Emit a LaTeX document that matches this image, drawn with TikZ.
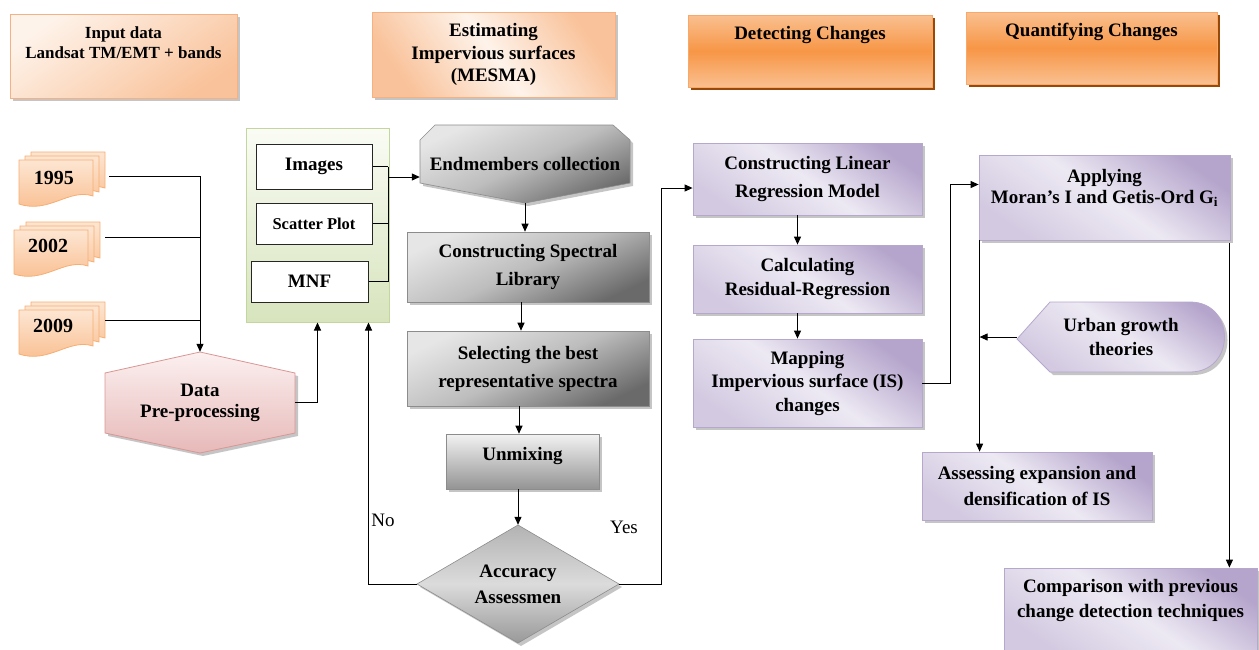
\documentclass[tikz,border=0pt]{standalone}
\usepackage{fontspec}
\setmainfont{Liberation Serif}
\usetikzlibrary{arrows.meta,shadows,calc}
\definecolor{peachL}{HTML}{FEF3EA}
\definecolor{peachD}{HTML}{F9C29A}
\definecolor{peachB}{HTML}{F4B183}
\definecolor{docL}{HTML}{FDE6D3}
\definecolor{docD}{HTML}{F9BC8C}
\definecolor{docB}{HTML}{F7AE72}
\definecolor{orM}{HTML}{F79646}
\definecolor{orL}{HTML}{FAC090}
\definecolor{orB}{HTML}{F8A96A}
\definecolor{brownS}{HTML}{984807}
\definecolor{purD}{HTML}{B5A5CC}
\definecolor{purL}{HTML}{EDE9F3}
\definecolor{purM}{HTML}{D3CAE1}
\definecolor{purB}{HTML}{B6A7CC}
\definecolor{pinkL}{HTML}{FCF0F0}
\definecolor{pinkD}{HTML}{E6B9B8}
\definecolor{pinkB}{HTML}{D99694}
\definecolor{greenL}{HTML}{FAFCF5}
\definecolor{greenD}{HTML}{D7E4BD}
\definecolor{greenB}{HTML}{C3D69B}
\definecolor{grL}{HTML}{E6E6E6}
\definecolor{grM}{HTML}{BDBDBD}
\definecolor{grD}{HTML}{6A6A6A}
\newcommand\bx{\fontsize{19}{25}\selectfont\bfseries}
\newcommand\bxf[1]{\fontsize{19}{#1}\selectfont\bfseries}
\newcommand\mydoc[2]{%
  \path[docpg] (#1,#2) -- ({#1+74},#2) -- ({#1+74},{#2+36})
    .. controls ({#1+50},{#2+28}) and ({#1+30},{#2+54}) .. (#1,{#2+44}) -- cycle;}
\newcommand\mydocs[2]{\mydoc{#1+12}{#2-8}\mydoc{#1+6}{#2-4}\mydoc{#1}{#2}}
\begin{document}
\begin{tikzpicture}[x=1pt,y=-1pt,
  arr/.style={-{Triangle[length=8pt,width=7pt]}, line width=1pt},
  ln/.style={line width=1pt},
  txt/.style={font=\bx, align=center, inner sep=0pt, text=black},
  box/.style={rectangle, inner sep=0pt, font=\bx, align=center, text=black},
  gshadow/.style={drop shadow={shadow xshift=3pt, shadow yshift=-3pt, fill=black!45, opacity=0.5}},
  peachbox/.style={box, draw=peachB, line width=0.8pt, top color=peachL, bottom color=peachD, shading angle=35, gshadow},
  peachbox2/.style={box, draw=peachB, line width=0.8pt, top color=peachD, bottom color=peachD, middle color=peachL, shading angle=-55, gshadow},
  orbox/.style={box, draw=orB, line width=0.8pt, top color=orL, bottom color=orL, middle color=orM,
     drop shadow={shadow xshift=3pt, shadow yshift=-3pt, fill=brownS, opacity=1}},
  docpg/.style={draw=docB, line width=0.8pt, top color=docL, bottom color=docD},
  pinkst/.style={draw=pinkB, line width=0.8pt, top color=pinkL, bottom color=pinkD, gshadow},
  greenbox/.style={box, draw=greenB, line width=1pt, top color=greenL, bottom color=greenD},
  wbox/.style={box, draw=black!85, line width=1pt, fill=white},
  graysh/.style={draw=gray!90, line width=0.6pt, top color=grL, bottom color=grD, middle color=grM, shading angle=25, gshadow},
  graybox/.style={box, graysh},
  unbox/.style={box, draw=gray!90, line width=0.6pt, top color=white!95!black, bottom color=black!42, gshadow},
  diast/.style={draw=gray!90, line width=0.6pt, top color=black!30, bottom color=black!40, middle color=black!14, gshadow},
  purst/.style={draw=purB, line width=0.8pt, top color=purD, bottom color=purM, middle color=purL, shading angle=-35, gshadow},
  purbox/.style={box, purst},
  lbl/.style={font=\fontsize{19}{22}\selectfont, inner sep=0pt, text=black}
]
\useasboundingbox (0,0) rectangle (1259,649);

% ---------- headers
\node[peachbox, minimum width=227, minimum height=84] (inp) at (123.5,56) {};
\node[txt, font=\fontsize{17}{20}\selectfont\bfseries] (inpT) at (123.5,43) {Input data\\Landsat TM/EMT + bands};
\node[peachbox2, minimum width=243, minimum height=85, font=\bxf{22.5}] (est) at (493.5,54.5) {Estimating\\Impervious surfaces\\(MESMA)};
\node[orbox, minimum width=244, minimum height=72] (det) at (810,51) {};
\node[txt] (detT) at (810,35) {Detecting Changes};
\node[orbox, minimum width=251, minimum height=72] (quan) at (1091.5,48) {};
\node[txt] (quanT) at (1091.5,32) {Quantifying Changes};

% ---------- input documents
\mydocs{19}{160}
\mydocs{14}{230}
\mydocs{19}{310}
\node[inner sep=0pt, minimum width=88, minimum height=48] (d1995) at (65,176) {};
\node[inner sep=0pt, minimum width=90, minimum height=48] (d2002) at (60,237) {};
\node[inner sep=0pt, minimum width=88, minimum height=48] (d2009) at (61,320) {};
\node[txt, font=\fontsize{20}{22}\selectfont\bfseries] (t1995) at (54,178) {1995};
\node[txt, font=\fontsize{20}{22}\selectfont\bfseries] (t2002) at (48,246) {2002};
\node[txt, font=\fontsize{20}{22}\selectfont\bfseries] (t2009) at (53,326) {2009};

% ---------- pre-processing
\path[pinkst] (105,373) -- (200,352) -- (295,373) -- (295,433) -- (200,453) -- (105,433) -- cycle;
\node[box, minimum width=190, minimum height=101, font=\bxf{21}] (pre) at (200,402.5) {Data\\Pre-processing};
\draw[arr] (d1995.east) -| (pre.north);
\draw[ln] (d2002.east) -- (d2002.east -| pre.north);
\draw[ln] (d2009.east) -- (d2009.east -| pre.north);

% ---------- green group
\node[greenbox, minimum width=143, minimum height=194] (green) at (317.5,225) {};
\node[wbox, minimum width=116, minimum height=45] (img) at (314,166.5) {Images};
\node[wbox, minimum width=116, minimum height=41, font=\fontsize{16.5}{20}\selectfont\bfseries] (sct) at (314,223.5) {Scatter Plot};
\node[wbox, minimum width=117, minimum height=41] (mnf) at (309.5,281.5) {MNF};
\draw[arr] (pre.east) -| (green.south);

% ---------- MESMA column
\path[graysh] (420,140) -- (435,125) -- (613,125) -- (630,140) -- (630,183) -- (525,203) -- (420,183) -- cycle;
\node[box, minimum width=210, minimum height=78] (endm) at (525,164) {Endmembers collection};
\coordinate (brk) at (388,177);
\draw[ln] (img.east) -- (img.east -| brk);
\draw[ln] (sct.east) -- (sct.east -| brk);
\draw[ln] (mnf.east) -- (mnf.east -| brk);
\draw[ln] (img.east -| brk) -- (mnf.east -| brk);
\draw[arr] (brk) -- (brk -| endm.west);

\node[graybox, minimum width=242, minimum height=70, font=\bxf{28}] (lib) at (528,267) {Constructing Spectral\\Library};
\node[graybox, minimum width=242, minimum height=75, font=\bxf{28}] (sel) at (528,368.5) {Selecting the best\\representative spectra};
\node[unbox, minimum width=153, minimum height=55] (unmix) at (522.5,461.5) {};
\node[txt] (unmixT) at (522.5,456) {Unmixing};
\path[diast] (417,584) -- (518,525) -- (619,584) -- (518,643) -- cycle;
\node[box, minimum width=202, minimum height=118, font=\bxf{26}] (acc) at (518,584) {Accuracy\\Assessmen};

\draw[arr] (endm.south) -- (endm.south |- lib.north);
\draw[arr] ($(lib.south)+(-7,0)$) -- ($(lib.south |- sel.north)+(-7,0)$);
\draw[arr] ($(sel.south)+(-9,0)$) -- ($(sel.south |- unmix.north)+(-9,0)$);
\draw[arr] (acc.north |- unmix.south) -- (acc.north);
\draw[arr] (acc.west) -| (mnf.east |- green.south);
\node[lbl] (no) at (383,520) {No};
\node[lbl] (yes) at (624,527) {Yes};

% ---------- detecting column
\node[purbox, minimum width=229, minimum height=72, font=\bxf{28}] (lin) at (807.5,179) {Constructing Linear\\Regression Model};
\node[purbox, minimum width=229, minimum height=68, font=\bxf{24}] (calc) at (807.5,279) {Calculating\\Residual-Regression};
\node[purbox, minimum width=229, minimum height=88, font=\bxf{23.5}] (map) at (807.5,383) {Mapping\\Impervious surface (IS)\\changes};
\draw[arr] ($(lin.south)+(-10,0)$) -- ($(lin.south |- calc.north)+(-10,0)$);
\draw[arr] ($(calc.south)+(-10,0)$) -- ($(calc.south |- map.north)+(-10,0)$);
\draw[arr] (acc.east) -| ($(lin.west)+(-31,9)$) -- ($(lin.west)+(0,9)$);

% ---------- quantifying column
\node[purbox, minimum width=251, minimum height=85] (app) at (1104.5,197.5) {};
\node[txt, font=\bxf{21}] (appT) at (1104.5,188) {Applying\\Moran’s I and Getis-Ord G\textsubscript{i}};
\draw[arr] (map.east) -- ++(28,0) |- ($(app.west)+(0,-13)$);

\path[purst] (1017,339) -- (1050,302) -- (1190,302) .. controls (1236,302) and (1236,372) .. (1190,372) -- (1050,372) -- cycle;
\node[box, minimum width=208, minimum height=70, font=\bxf{24}] (urb) at (1121,337) {Urban growth\\theories};

\node[purbox, minimum width=230, minimum height=68, font=\bxf{26}] (ass) at (1037,486) {Assessing expansion and\\densification of IS};
\node[purbox, minimum width=253, minimum height=84] (comp) at (1130.5,610) {};
\node[txt] (compT) at (1130.5,600) {Comparison with previous\\change detection techniques};

\coordinate (aL) at ($(app.south west)+(1,0)$);
\coordinate (aR) at ($(app.south east)+(-1,3)$);
\draw[arr] (aL) -- (aL |- ass.north);
\draw[arr] (urb.west) -- (urb.west -| aL);
\draw[arr] (aR) -- (aR |- comp.north);
\end{tikzpicture}
\end{document}
